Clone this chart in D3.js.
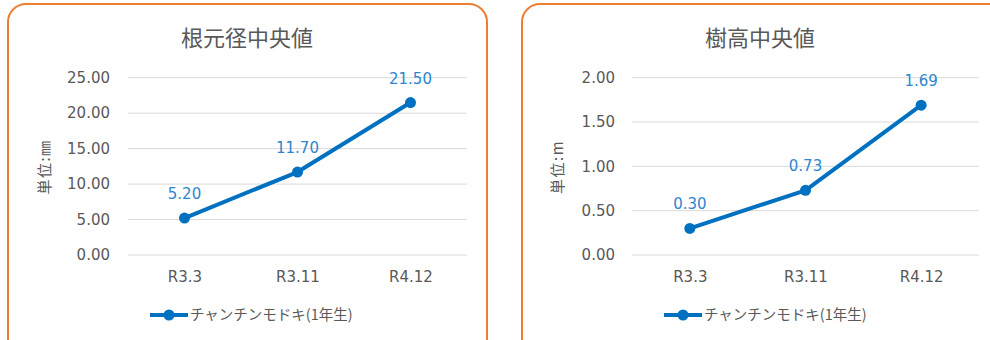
<!DOCTYPE html>
<html lang="ja">
<head>
<meta charset="utf-8">
<title>median charts</title>
<script src="https://cdnjs.cloudflare.com/ajax/libs/d3/7.8.5/d3.min.js"></script>
<style>
  body { margin: 0; background: #fff; }
</style>
</head>
<body>
<script>
// data
var categories = ["R3.3", "R3.11", "R4.12"];
var seriesName = "チャンチンモドキ(1年生)";
var diameterValues = [5.20, 11.70, 21.50];
var diameterTicks = [0, 5, 10, 15, 20, 25];
var heightValues = [0.30, 0.73, 1.69];
var heightTicks = [0, 0.5, 1.0, 1.5, 2.0];

var W = 990, H = 340;
var lineColor = "#0070C0", labelColor = "#2E86CF", textColor = "#595959";
var jpFont = "'Noto Sans CJK JP', sans-serif";
var numFont = "'DejaVu Sans', sans-serif";

var svg = d3.select("body").append("svg")
    .attr("width", W).attr("height", H);

function drawChart(cfg) {
  var g = svg.append("g");

  // panel border
  g.append("rect")
    .attr("x", cfg.box[0]).attr("y", cfg.box[1])
    .attr("width", cfg.box[2]).attr("height", cfg.box[3])
    .attr("rx", 18).attr("ry", 18)
    .attr("fill", "#fff")
    .attr("stroke", "#ED7D31")
    .attr("stroke-width", 2);

  // title
  g.append("text")
    .attr("x", cfg.titleX).attr("y", 46)
    .attr("text-anchor", "middle")
    .style("font-family", jpFont)
    .style("font-size", "22px")
    .attr("fill", textColor)
    .text(cfg.title);

  var x = d3.scalePoint().domain(categories)
      .range([cfg.plot[0], cfg.plot[1]]).padding(0.5);
  var y = d3.scaleLinear().domain(cfg.domain).range([255, 77.7]);

  // gridlines
  g.append("g").selectAll("line").data(cfg.ticks).join("line")
    .attr("x1", cfg.plot[0]).attr("x2", cfg.plot[1])
    .attr("y1", d => y(d)).attr("y2", d => y(d))
    .attr("stroke", "#D9D9D9").attr("stroke-width", 1);

  // y axis
  var yAxis = g.append("g")
    .attr("transform", "translate(" + cfg.plot[0] + ",0)")
    .call(d3.axisLeft(y).tickValues(cfg.ticks).tickFormat(d3.format(".2f")).tickSize(0).tickPadding(cfg.tickPad));
  yAxis.select(".domain").remove();
  yAxis.selectAll("text").attr("fill", textColor)
    .style("font-family", numFont).style("font-size", "15px");

  // x axis
  var xAxis = g.append("g")
    .attr("transform", "translate(0,255)")
    .call(d3.axisBottom(x).tickSize(0).tickPadding(16));
  xAxis.select(".domain").remove();
  xAxis.selectAll("text").attr("fill", textColor)
    .style("font-family", numFont).style("font-size", "15px");

  // y axis title
  g.append("text")
    .attr("transform", "translate(" + cfg.yTitleX + ",167) rotate(-90)")
    .attr("text-anchor", "middle")
    .attr("dy", "0.35em")
    .style("font-family", jpFont)
    .style("font-size", "15px")
    .style("letter-spacing", "1.5px")
    .attr("fill", textColor)
    .text(cfg.yTitle);

  var pts = categories.map((c, i) => ({c: c, v: cfg.values[i]}));

  g.append("path")
    .datum(pts)
    .attr("fill", "none")
    .attr("stroke", lineColor)
    .attr("stroke-width", 4)
    .attr("stroke-linejoin", "round")
    .attr("d", d3.line().x(d => x(d.c)).y(d => y(d.v)));

  g.selectAll("circle.pt").data(pts).join("circle")
    .attr("class", "pt")
    .attr("cx", d => x(d.c)).attr("cy", d => y(d.v))
    .attr("r", 5.5).attr("fill", lineColor);

  g.selectAll("text.lbl").data(pts).join("text")
    .attr("class", "lbl")
    .attr("x", d => x(d.c)).attr("y", d => y(d.v) - 19)
    .attr("text-anchor", "middle")
    .style("font-family", numFont)
    .style("font-size", "15px")
    .attr("fill", labelColor)
    .text(d => d.v.toFixed(2));

  // legend
  var lg = g.append("g");
  lg.append("line")
    .attr("x1", cfg.legendX).attr("x2", cfg.legendX + 38)
    .attr("y1", 315).attr("y2", 315)
    .attr("stroke", lineColor).attr("stroke-width", 4);
  lg.append("circle")
    .attr("cx", cfg.legendX + 19).attr("cy", 315).attr("r", 5.5)
    .attr("fill", lineColor);
  lg.append("text")
    .attr("x", cfg.legendX + 40).attr("y", 315)
    .attr("dy", "0.35em")
    .style("font-family", jpFont)
    .style("font-size", "14.5px")
    .attr("fill", textColor)
    .text(seriesName);
}

drawChart({
  box: [8, 4, 479, 360],
  title: "根元径中央値",
  titleX: 247,
  plot: [128, 467],
  domain: [0, 25],
  ticks: diameterTicks,
  tickPad: 18,
  values: diameterValues,
  yTitle: "単位:㎜",
  yTitleX: 45,
  legendX: 150
});

drawChart({
  box: [522, 4, 490, 360],
  title: "樹高中央値",
  titleX: 760,
  plot: [632, 979],
  domain: [0, 2],
  ticks: heightTicks,
  tickPad: 17,
  values: heightValues,
  yTitle: "単位:m",
  yTitleX: 558,
  legendX: 664
});
</script>
</body>
</html>
